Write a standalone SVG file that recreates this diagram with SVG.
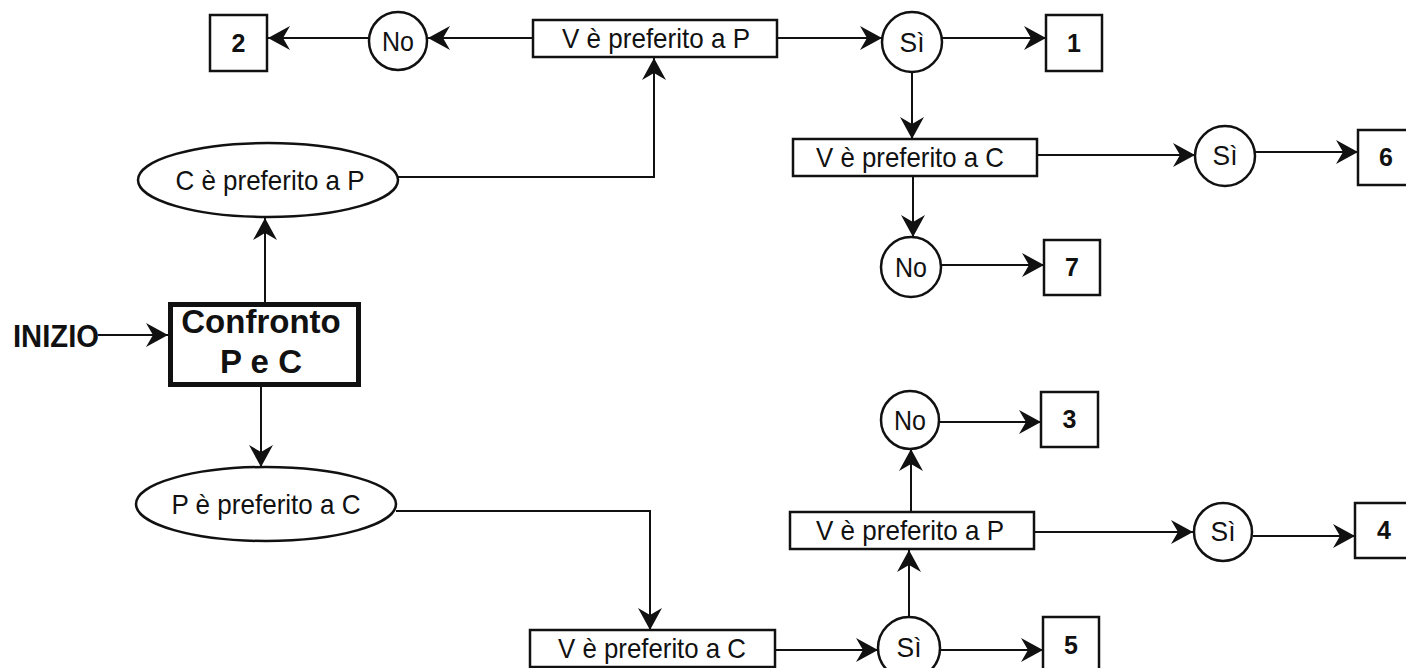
<svg xmlns="http://www.w3.org/2000/svg" width="1406" height="668" viewBox="0 0 1406 668">
<defs>
<marker id="ah" viewBox="0 0 22 24" markerWidth="22" markerHeight="24" refX="22" refY="12" orient="auto" markerUnits="userSpaceOnUse">
<path d="M0,0 L22,12 L0,24 L7,12 Z" fill="#111"/>
</marker>
<style>
.shape{fill:#fff;stroke:#111;stroke-width:2.5}
.thick{fill:#fff;stroke:#111;stroke-width:5}
.conn{fill:none;stroke:#111;stroke-width:2;marker-end:url(#ah)}
.t{font-family:"Liberation Sans",Arial,sans-serif;font-size:28px;fill:#111;text-anchor:middle}
.n{font-family:"Liberation Sans",Arial,sans-serif;font-size:25px;font-weight:bold;fill:#111;text-anchor:middle}
.b{font-family:"Liberation Sans",Arial,sans-serif;font-size:33px;font-weight:bold;fill:#111;text-anchor:middle}
</style>
</defs>
<rect width="1406" height="668" fill="#fff"/>
<g id="connectors">
<path class="conn" d="M533,38 L428,38"/>
<path class="conn" d="M369,38 L268,38"/>
<path class="conn" d="M777,38 L882,38"/>
<path class="conn" d="M942,38 L1046,38"/>
<path class="conn" d="M912,72 L912,139"/>
<path class="conn" d="M398,177 L654,177 L654,58"/>
<path class="conn" d="M1037,155 L1195,155"/>
<path class="conn" d="M1255,152 L1358,152"/>
<path class="conn" d="M913,176 L913,237"/>
<path class="conn" d="M941,265 L1044,265"/>
<path class="conn" d="M98,335 L168,335"/>
<path class="conn" d="M265,302 L265,218"/>
<path class="conn" d="M261,387 L261,467"/>
<path class="conn" d="M396,511 L650,511 L650,630"/>
<path class="conn" d="M775,650 L878,650"/>
<path class="conn" d="M940,650 L1043,650"/>
<path class="conn" d="M909,617 L909,550"/>
<path class="conn" d="M911,512 L911,449"/>
<path class="conn" d="M939,422 L1041,422"/>
<path class="conn" d="M1034,532 L1193,532"/>
<path class="conn" d="M1253,536 L1355,536"/>
</g>
<g id="inizio"><text x="13" y="347" textLength="86" lengthAdjust="spacingAndGlyphs" font-family="Liberation Sans, Arial, sans-serif" font-size="31" font-weight="bold" fill="#111">INIZIO</text></g>
<g id="confronto">
<rect class="thick" x="170.5" y="304.5" width="188" height="80"/>
<text class="b" x="261" y="333">Confronto</text>
<text class="b" x="261" y="373">P e C</text>
</g>
<g id="cPrefP">
<ellipse class="shape" cx="268" cy="180" rx="130" ry="37"/>
<text class="t" x="270" y="190" textLength="189" lengthAdjust="spacingAndGlyphs">C è preferito a P</text>
</g>
<g id="pPrefC">
<ellipse class="shape" cx="266" cy="504" rx="130" ry="37"/>
<text class="t" x="266" y="514" textLength="189" lengthAdjust="spacingAndGlyphs">P è preferito a C</text>
</g>
<g id="vPrefP1">
<rect class="shape" x="533" y="20" width="244" height="37"/>
<text class="t" x="656" y="48" textLength="188" lengthAdjust="spacingAndGlyphs">V è preferito a P</text>
</g>
<g id="no1">
<circle class="shape" cx="398" cy="41" r="29"/>
<text class="t" x="398" y="51" textLength="32" lengthAdjust="spacingAndGlyphs">No</text>
</g>
<g id="box2">
<rect class="shape" x="210" y="15" width="57" height="56"/>
<text class="n" x="238.5" y="52">2</text>
</g>
<g id="si1">
<circle class="shape" cx="912" cy="42" r="30"/>
<text class="t" x="912" y="52" textLength="25" lengthAdjust="spacingAndGlyphs">Sì</text>
</g>
<g id="box1">
<rect class="shape" x="1046" y="15" width="56" height="56"/>
<text class="n" x="1074" y="52">1</text>
</g>
<g id="vPrefC1">
<rect class="shape" x="793" y="139" width="244" height="37"/>
<text class="t" x="910" y="167" textLength="188" lengthAdjust="spacingAndGlyphs">V è preferito a C</text>
</g>
<g id="si2">
<circle class="shape" cx="1225" cy="156" r="30"/>
<text class="t" x="1225" y="165" textLength="25" lengthAdjust="spacingAndGlyphs">Sì</text>
</g>
<g id="box6">
<rect class="shape" x="1358" y="130" width="56" height="55"/>
<text class="n" x="1386" y="166">6</text>
</g>
<g id="no2">
<circle class="shape" cx="911" cy="267" r="30"/>
<text class="t" x="911" y="277" textLength="32" lengthAdjust="spacingAndGlyphs">No</text>
</g>
<g id="box7">
<rect class="shape" x="1044" y="240" width="56" height="55"/>
<text class="n" x="1072" y="276">7</text>
</g>
<g id="no3">
<circle class="shape" cx="910" cy="420" r="29"/>
<text class="t" x="910" y="430" textLength="32" lengthAdjust="spacingAndGlyphs">No</text>
</g>
<g id="box3">
<rect class="shape" x="1041" y="392" width="57" height="55"/>
<text class="n" x="1069.5" y="428">3</text>
</g>
<g id="vPrefP2">
<rect class="shape" x="790" y="512" width="244" height="37"/>
<text class="t" x="910" y="540" textLength="188" lengthAdjust="spacingAndGlyphs">V è preferito a P</text>
</g>
<g id="si4">
<circle class="shape" cx="1223" cy="532" r="29"/>
<text class="t" x="1223" y="541" textLength="25" lengthAdjust="spacingAndGlyphs">Sì</text>
</g>
<g id="box4">
<rect class="shape" x="1355" y="503" width="56" height="55"/>
<text class="n" x="1384" y="539">4</text>
</g>
<g id="vPrefC2">
<rect class="shape" x="530" y="630" width="245" height="37"/>
<text class="t" x="652" y="658" textLength="188" lengthAdjust="spacingAndGlyphs">V è preferito a C</text>
</g>
<g id="si3">
<circle class="shape" cx="909" cy="648" r="31"/>
<text class="t" x="909" y="657" textLength="25" lengthAdjust="spacingAndGlyphs">Sì</text>
</g>
<g id="box5">
<rect class="shape" x="1043" y="617" width="56" height="56"/>
<text class="n" x="1071" y="654">5</text>
</g>
</svg>
